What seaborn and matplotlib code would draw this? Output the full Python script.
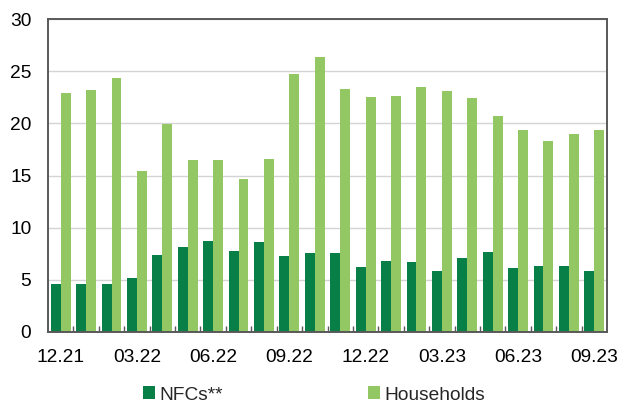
import matplotlib
matplotlib.use("Agg")
import matplotlib.pyplot as plt
from matplotlib.ticker import FixedLocator
import numpy as np
import pandas as pd
import seaborn as sns

months = ["12.21", "01.22", "02.22", "03.22", "04.22", "05.22", "06.22", "07.22",
          "08.22", "09.22", "10.22", "11.22", "12.22", "01.23", "02.23", "03.23",
          "04.23", "05.23", "06.23", "07.23", "08.23", "09.23"]
nfcs = [4.6, 4.6, 4.6, 5.2, 7.4, 8.1, 8.7, 7.8, 8.6, 7.3, 7.6, 7.6,
        6.2, 6.8, 6.7, 5.8, 7.1, 7.7, 6.1, 6.3, 6.3, 5.8]
households = [22.9, 23.2, 24.3, 15.4, 19.9, 16.5, 16.5, 14.7, 16.6, 24.7, 26.4, 23.3,
              22.5, 22.6, 23.5, 23.1, 22.4, 20.7, 19.4, 18.3, 19.0, 19.4]
series_names = ["NFCs**", "Households"]
tick_labels = ["12.21", "03.22", "06.22", "09.22", "12.22", "03.23", "06.23", "09.23"]

df = pd.DataFrame({
    "month": months * 2,
    "series": [series_names[0]] * len(months) + [series_names[1]] * len(months),
    "value": nfcs + households,
})

sns.set_theme(style="white")
plt.rcParams["font.family"] = ["Liberation Sans", "DejaVu Sans"]
FS = 13.8

fig = plt.figure(figsize=(6.22, 4.03), dpi=100)
ax = fig.add_axes([48 / 622, 1 - 332 / 403, (607 - 48) / 622, (332 - 19) / 403])

palette = {series_names[0]: "#077f47", series_names[1]: "#93c763"}
sns.barplot(data=df, x="month", y="value", hue="series", order=months,
            hue_order=series_names, palette=palette, width=0.78,
            saturation=1, ax=ax, linewidth=0, legend=True)

ax.set_xlim(-0.5, len(months) - 0.5)
ax.set_ylim(0, 30)
ax.set_yticks(np.arange(0, 31, 5))
ax.yaxis.grid(True, color="#d4d4d4", linewidth=1)
ax.set_axisbelow(True)
ax.set_xlabel("")
ax.set_ylabel("")

pos = [months.index(t) for t in tick_labels]
ax.set_xticks(pos)
ax.set_xticklabels(tick_labels)
ax.xaxis.set_minor_locator(FixedLocator(np.arange(0.5, len(months) - 1, 1)))
ax.tick_params(axis="x", which="major", length=0, pad=12, labelsize=FS, colors="black")
ax.tick_params(axis="x", which="minor", direction="in", length=4, width=1,
               color="#595959", bottom=True)
ax.tick_params(axis="y", length=0, pad=12, labelsize=FS, colors="black")

for s in ax.spines.values():
    s.set_visible(True)
    s.set_color("#595959")
    s.set_linewidth(1.4)

handles, labels = ax.get_legend_handles_labels()
ax.get_legend().remove()
fig.legend(handles, labels, loc="center left", bbox_to_anchor=(143 / 622, 1 - 395 / 403),
           ncol=2, frameon=False, fontsize=FS, handlelength=0.63, handleheight=0.63,
           handletextpad=0.2, columnspacing=7.6, borderpad=0, borderaxespad=0)

fig.savefig("out.png", dpi=100)
